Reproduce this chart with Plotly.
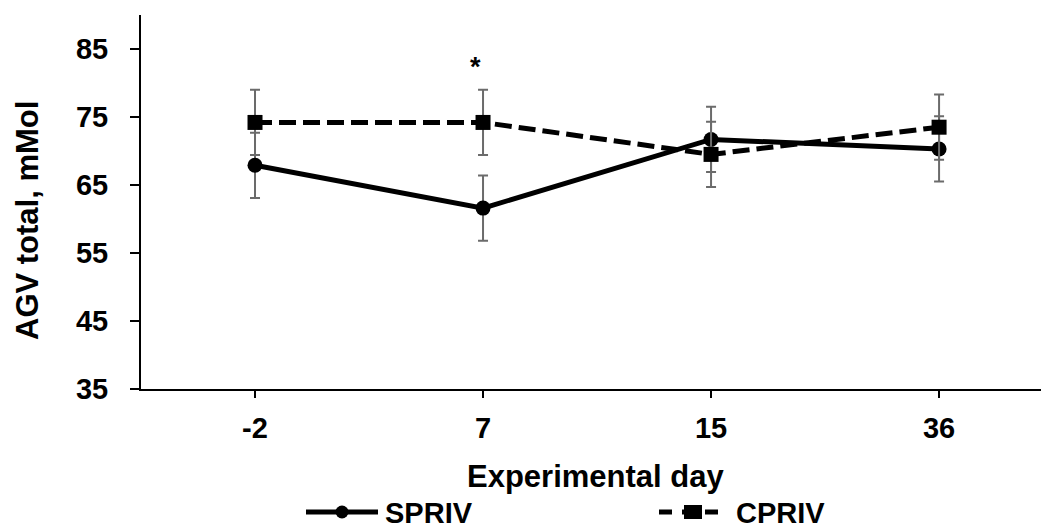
import plotly.graph_objects as go

# Experimental days (categories) and total VFA concentration (mean ± SE)
days = ["-2", "7", "15", "36"]
spriv = [67.9, 61.6, 71.7, 70.3]
spriv_se = [4.8, 4.8, 4.8, 4.8]
cpriv = [74.2, 74.2, 69.5, 73.5]
cpriv_se = [4.8, 4.8, 4.8, 4.8]

y_ticks = [35, 45, 55, 65, 75, 85]
series_names = ["SPRIV", "CPRIV"]
signif_day = "7"

FONT = "Liberation Sans, Arial, sans-serif"
FS = 29
FS_TITLE = 31
ERR_COLOR = "#6b6b6b"

W, H = 1041, 531
L, R, T, B = 141, 0, 15, 142
PW, PH = W - L - R, H - T - B


def px_x(p):
    return (p - L) / PW


def px_y(p):
    return (H - B - p) / PH


fig = go.Figure()

fig.add_trace(go.Scatter(
    x=days, y=spriv, name=series_names[0], mode="lines+markers",
    line=dict(color="black", width=5),
    marker=dict(symbol="circle", size=15, color="black"),
    error_y=dict(type="data", array=spriv_se, visible=True,
                 color=ERR_COLOR, thickness=2, width=5),
    showlegend=False,
))
fig.add_trace(go.Scatter(
    x=days, y=cpriv, name=series_names[1], mode="lines+markers",
    line=dict(color="black", width=5, dash="17px,7px"),
    marker=dict(symbol="square", size=15, color="black"),
    error_y=dict(type="data", array=cpriv_se, visible=True,
                 color=ERR_COLOR, thickness=2, width=5),
    showlegend=False,
))

bold = dict(family=FONT, size=FS, color="black", weight="bold")
bold_title = dict(family=FONT, size=FS_TITLE, color="black", weight="bold")

annotations = [
    # significance marker above day 7
    dict(x=days.index(signif_day), y=82.3, xref="x", yref="y", text="*",
         showarrow=False, xshift=-8,
         font=dict(family=FONT, size=27, color="black", weight="bold")),
    # axis titles
    dict(x=px_x(595.5), y=px_y(476), xref="paper", yref="paper",
         text="Experimental day", showarrow=False, xanchor="center", yanchor="middle",
         font=bold_title),
    dict(x=px_x(27), y=px_y(220), xref="paper", yref="paper",
         text="AGV total, mMol", textangle=-90, showarrow=False,
         xanchor="center", yanchor="middle", font=bold_title),
    # legend labels
    dict(x=px_x(383), y=px_y(513), xref="paper", yref="paper",
         text=series_names[0], showarrow=False, xanchor="left", yanchor="middle",
         font=bold),
    dict(x=px_x(734), y=px_y(513), xref="paper", yref="paper",
         text=series_names[1], showarrow=False, xanchor="left", yanchor="middle",
         font=bold),
]

# legend keys
ly = px_y(512)
shapes = [
    dict(type="line", xref="paper", yref="paper", x0=px_x(306), x1=px_x(378),
         y0=ly, y1=ly, line=dict(color="black", width=5)),
    dict(type="circle", xref="paper", yref="paper",
         x0=px_x(342 - 6.5), x1=px_x(342 + 6.5), y0=px_y(512 + 6.5), y1=px_y(512 - 6.5),
         fillcolor="black", line=dict(color="black", width=0)),
    dict(type="line", xref="paper", yref="paper", x0=px_x(659), x1=px_x(724),
         y0=ly, y1=ly, line=dict(color="black", width=5, dash="13px,10px")),
    dict(type="rect", xref="paper", yref="paper",
         x0=px_x(684), x1=px_x(702), y0=px_y(512 + 7), y1=px_y(512 - 7),
         fillcolor="black", line=dict(color="black", width=0)),
]

fig.update_layout(
    width=W, height=H,
    margin=dict(l=L, r=R, t=T, b=B, pad=0),
    paper_bgcolor="white", plot_bgcolor="white",
    font=dict(family=FONT, size=FS, color="black"),
    annotations=annotations,
    shapes=shapes,
    showlegend=False,
)

fig.update_xaxes(
    type="category", range=[-0.5, 3.447],
    showline=True, linecolor="black", linewidth=2,
    ticks="outside", ticklen=7, tickwidth=2, tickcolor="black",
    showgrid=False, zeroline=False,
    tickfont=bold,
    ticklabelstandoff=5,
)
fig.update_yaxes(
    range=[35, 90], tickvals=y_ticks,
    showline=True, linecolor="black", linewidth=2,
    ticks="outside", ticklen=9, tickwidth=2, tickcolor="black",
    showgrid=False, zeroline=False,
    tickfont=bold,
    ticklabelstandoff=16,
)

fig.write_html("out.html")
